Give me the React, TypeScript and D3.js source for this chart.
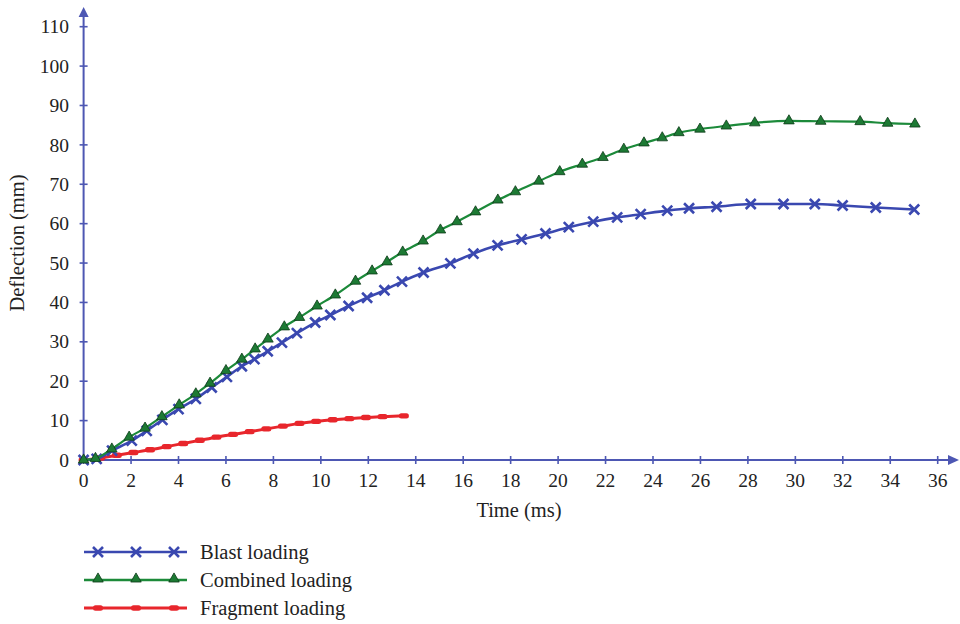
import React from "react";
import * as d3 from "d3";

// values (time in ms, deflection in mm)
const blastTime = [0, 0.55, 1.2, 2.03, 2.66, 3.32, 4.0, 4.73, 5.4, 6.04, 6.67, 7.2, 7.76, 8.36, 8.99, 9.76, 10.4, 11.17, 11.95, 12.68, 13.42, 14.33, 15.46, 16.43, 17.45, 18.46, 19.47, 20.45, 21.48, 22.49, 23.48, 24.6, 25.52, 26.68, 28.12, 29.5, 30.82, 31.99, 33.39, 35.01];
const blastDefl = [0, 0.3, 2.4, 4.9, 7.4, 10.2, 12.9, 15.5, 18.4, 21.1, 23.8, 25.6, 27.6, 29.8, 32.2, 34.9, 36.8, 39.1, 41.2, 43.1, 45.3, 47.6, 49.9, 52.4, 54.5, 56.0, 57.5, 59.1, 60.5, 61.6, 62.4, 63.3, 63.9, 64.3, 65.0, 65.0, 65.0, 64.6, 64.1, 63.6];

const combinedTime = [0, 0.5, 1.19, 1.92, 2.59, 3.3, 4.03, 4.73, 5.33, 6.0, 6.67, 7.23, 7.77, 8.46, 9.1, 9.84, 10.61, 11.46, 12.16, 12.79, 13.45, 14.31, 15.04, 15.74, 16.52, 17.46, 18.2, 19.19, 20.07, 21.02, 21.89, 22.77, 23.62, 24.39, 25.09, 25.98, 27.09, 28.29, 29.73, 31.07, 32.73, 33.89, 35.04];
const combinedDefl = [0, 0.4, 2.8, 5.8, 8.1, 11.0, 14.0, 16.8, 19.5, 22.7, 25.6, 28.2, 30.7, 33.8, 36.2, 39.1, 41.9, 45.4, 48.0, 50.3, 52.8, 55.6, 58.4, 60.5, 63.0, 66.0, 68.1, 70.8, 73.2, 75.1, 76.8, 78.9, 80.5, 81.8, 83.1, 84.0, 84.8, 85.6, 86.1, 86.0, 85.9, 85.5, 85.3];

const fragmentTime = [0, 0.7, 1.4, 2.1, 2.8, 3.5, 4.2, 4.9, 5.6, 6.3, 7.0, 7.7, 8.4, 9.1, 9.8, 10.5, 11.2, 11.9, 12.6, 13.5];
const fragmentDefl = [0, 0.5, 1.2, 1.9, 2.6, 3.4, 4.2, 5.0, 5.8, 6.5, 7.2, 7.9, 8.6, 9.3, 9.8, 10.2, 10.5, 10.8, 11.0, 11.2];

const xTicks = [0, 2, 4, 6, 8, 10, 12, 14, 16, 18, 20, 22, 24, 26, 28, 30, 32, 34, 36];
const yTicks = [0, 10, 20, 30, 40, 50, 60, 70, 80, 90, 100, 110];

const seriesNames = ["Blast loading", "Combined loading", "Fragment loading"];

const W = 960;
const H = 624;
const FONT = "'Liberation Serif', 'Times New Roman', serif";
const AXIS = "#4d57b3";
const BLUE = "#3a48b0";
const GREEN = "#1c8a3a";
const TRI = "#1d7a34";
const RED = "#e8262c";

const x = d3.scaleLinear().domain([0, 36]).range([83.6, 937.7]);
const y = d3.scaleLinear().domain([0, 110]).range([460, 26.7]);

const zip = (ts: number[], vs: number[]) => ts.map((t, i) => [t, vs[i]] as [number, number]);
const blast = zip(blastTime, blastDefl);
const combined = zip(combinedTime, combinedDefl);
const fragment = zip(fragmentTime, fragmentDefl);

const line = d3
  .line<[number, number]>()
  .x((d) => x(d[0]))
  .y((d) => y(d[1]))
  .curve(d3.curveMonotoneX);

const tri = d3.symbol(d3.symbolTriangle, 48)()!;

const Cross = ({ cx, cy }: { cx: number; cy: number }) => (
  <path
    d={`M${cx - 5},${cy - 5}L${cx + 5},${cy + 5}M${cx - 5},${cy + 5}L${cx + 5},${cy - 5}`}
    stroke={BLUE}
    strokeWidth={2.6}
    fill="none"
  />
);
const Tri = ({ cx, cy }: { cx: number; cy: number }) => (
  <path d={tri} transform={`translate(${cx},${cy})`} fill={TRI} stroke="#0d3a18" strokeWidth={0.8} />
);
const Dash = ({ cx, cy }: { cx: number; cy: number }) => (
  <rect x={cx - 5} y={cy - 2.7} width={10} height={5.4} rx={2.5} fill={RED} />
);

export default function App() {
  const x0 = x(0);
  const y0 = y(0);
  const legendY = [552, 580, 608];
  const legendMarkX = [98, 136, 174];
  return (
    <svg width={W} height={H} style={{ position: "absolute", left: 0, top: 0, background: "#fff" }}>
      {/* axes */}
      <line x1={x0} x2={x0} y1={y0 + 2} y2={14} stroke={AXIS} strokeWidth={2} />
      <path d={`M${x0 - 5},${17}L${x0},${7}L${x0 + 5},${17}Z`} fill={AXIS} />
      <line x1={x0 - 2} x2={950} y1={y0} y2={y0} stroke={AXIS} strokeWidth={2} />
      <path d={`M${948},${y0 - 5}L${959},${y0}L${948},${y0 + 5}Z`} fill={AXIS} />

      {yTicks.map((v) => (
        <g key={"y" + v}>
          <line x1={x0 - 4} x2={x0 + 4} y1={y(v)} y2={y(v)} stroke={AXIS} strokeWidth={1.6} />
          <text x={69} y={y(v)} dy="0.34em" textAnchor="end" fontFamily={FONT} fontSize={19.5} fill="#222">
            {v}
          </text>
        </g>
      ))}
      {xTicks.map((t) => (
        <g key={"x" + t}>
          <line x1={x(t)} x2={x(t)} y1={y0 - 4} y2={y0 + 4} stroke={AXIS} strokeWidth={1.6} />
          <text x={x(t)} y={487} textAnchor="middle" fontFamily={FONT} fontSize={19.5} fill="#222">
            {t}
          </text>
        </g>
      ))}

      <text x={519} y={517} textAnchor="middle" fontFamily={FONT} fontSize={20.5} fill="#222">
        Time (ms)
      </text>
      <text
        transform={`translate(24,243) rotate(-90)`}
        textAnchor="middle"
        fontFamily={FONT}
        fontSize={20.5}
        fill="#222"
      >
        Deflection (mm)
      </text>

      {/* series */}
      <path d={line(fragment)!} fill="none" stroke={RED} strokeWidth={3} />
      {fragment.map((d, i) => (
        <Dash key={"f" + i} cx={x(d[0])} cy={y(d[1])} />
      ))}
      <path d={line(blast)!} fill="none" stroke={BLUE} strokeWidth={2.6} />
      {blast.map((d, i) => (
        <Cross key={"b" + i} cx={x(d[0])} cy={y(d[1])} />
      ))}
      <path d={line(combined)!} fill="none" stroke={GREEN} strokeWidth={2.2} />
      {combined.map((d, i) => (
        <Tri key={"c" + i} cx={x(d[0])} cy={y(d[1])} />
      ))}

      {/* legend */}
      {seriesNames.map((name, i) => (
        <g key={name}>
          <line
            x1={84}
            x2={187}
            y1={legendY[i]}
            y2={legendY[i]}
            stroke={[BLUE, GREEN, RED][i]}
            strokeWidth={i === 2 ? 3 : 2.6}
          />
          {legendMarkX.map((mx) =>
            i === 0 ? (
              <Cross key={mx} cx={mx} cy={legendY[i]} />
            ) : i === 1 ? (
              <Tri key={mx} cx={mx} cy={legendY[i] - 1} />
            ) : (
              <Dash key={mx} cx={mx} cy={legendY[i]} />
            )
          )}
          <text x={200} y={legendY[i]} dy="0.32em" fontFamily={FONT} fontSize={20.5} fill="#222">
            {name}
          </text>
        </g>
      ))}
    </svg>
  );
}
